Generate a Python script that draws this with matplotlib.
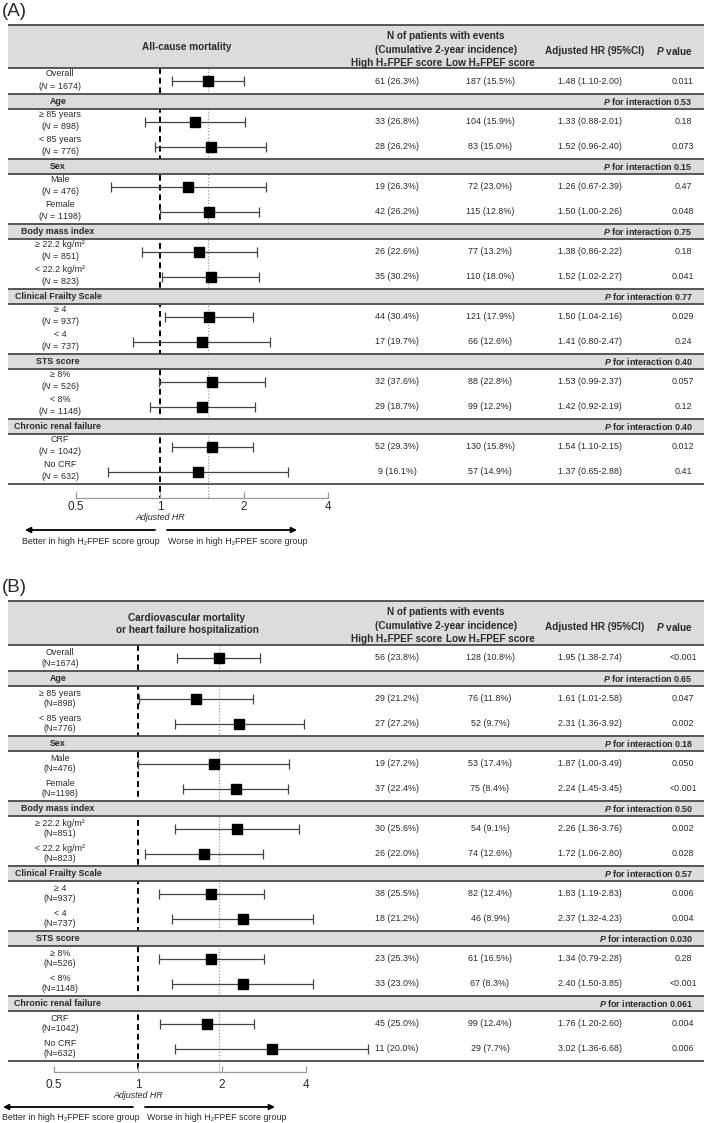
import numpy as np
import matplotlib.pyplot as plt

plt.rcParams['font.family'] = ['Liberation Sans', 'DejaVu Sans']
plt.rcParams['mathtext.fontset'] = 'custom'
plt.rcParams['mathtext.rm'] = 'Liberation Sans'
plt.rcParams['mathtext.it'] = 'Liberation Sans:italic'
plt.rcParams['mathtext.bf'] = 'Liberation Sans:bold'
plt.rcParams['mathtext.bfit'] = 'Liberation Sans:italic:bold'

# Subgrupos (comunes a ambos paneles)
grupos = ['Age', 'Sex', 'Body mass index', 'Clinical Frailty Scale', 'STS score', 'Chronic renal failure']
etiquetas = ['Overall', '≥ 85 years', '< 85 years', 'Male', 'Female', '≥ 22.2 kg/m²', '< 22.2 kg/m²',
             '≥ 4', '< 4', '≥ 8%', '< 8%', 'CRF', 'No CRF']
n_pac = [1674, 898, 776, 476, 1198, 851, 823, 937, 737, 526, 1148, 1042, 632]

# Panel A: mortalidad por cualquier causa
alto_a = ['61 (26.3%)', '33 (26.8%)', '28 (26.2%)', '19 (26.3%)', '42 (26.2%)', '26 (22.6%)', '35 (30.2%)',
          '44 (30.4%)', '17 (19.7%)', '32 (37.6%)', '29 (18.7%)', '52 (29.3%)', '9 (16.1%)']
bajo_a = ['187 (15.5%)', '104 (15.9%)', '83 (15.0%)', '72 (23.0%)', '115 (12.8%)', '77 (13.2%)', '110 (18.0%)',
          '121 (17.9%)', '66 (12.6%)', '88 (22.8%)', '99 (12.2%)', '130 (15.8%)', '57 (14.9%)']
hr_txt_a = ['1.48 (1.10-2.00)', '1.33 (0.88-2.01)', '1.52 (0.96-2.40)', '1.26 (0.67-2.39)', '1.50 (1.00-2.26)',
            '1.38 (0.86-2.22)', '1.52 (1.02-2.27)', '1.50 (1.04-2.16)', '1.41 (0.80-2.47)', '1.53 (0.99-2.37)',
            '1.42 (0.92-2.19)', '1.54 (1.10-2.15)', '1.37 (0.65-2.88)']
p_a = ['0.011', '0.18', '0.073', '0.47', '0.048', '0.18', '0.041', '0.029', '0.24', '0.057', '0.12', '0.012', '0.41']
p_int_a = ['0.53', '0.15', '0.75', '0.77', '0.40', '0.40']
hr_a = [1.48, 1.33, 1.52, 1.26, 1.50, 1.38, 1.52, 1.50, 1.41, 1.53, 1.42, 1.54, 1.37]
lo_a = [1.10, 0.88, 0.96, 0.67, 1.00, 0.86, 1.02, 1.04, 0.80, 0.99, 0.92, 1.10, 0.65]
hi_a = [2.00, 2.01, 2.40, 2.39, 2.26, 2.22, 2.27, 2.16, 2.47, 2.37, 2.19, 2.15, 2.88]

# Panel B: mortalidad CV u hospitalizacion por IC
alto_b = ['56 (23.8%)', '29 (21.2%)', '27 (27.2%)', '19 (27.2%)', '37 (22.4%)', '30 (25.6%)', '26 (22.0%)',
          '38 (25.5%)', '18 (21.2%)', '23 (25.3%)', '33 (23.0%)', '45 (25.0%)', '11 (20.0%)']
bajo_b = ['128 (10.8%)', '76 (11.8%)', '52 (9.7%)', '53 (17.4%)', '75 (8.4%)', '54 (9.1%)', '74 (12.6%)',
          '82 (12.4%)', '46 (8.9%)', '61 (16.5%)', '67 (8.3%)', '99 (12.4%)', '29 (7.7%)']
hr_txt_b = ['1.95 (1.38-2.74)', '1.61 (1.01-2.58)', '2.31 (1.36-3.92)', '1.87 (1.00-3.49)', '2.24 (1.45-3.45)',
            '2.26 (1.36-3.76)', '1.72 (1.06-2.80)', '1.83 (1.19-2.83)', '2.37 (1.32-4.23)', '1.34 (0.79-2.28)',
            '2.40 (1.50-3.85)', '1.76 (1.20-2.60)', '3.02 (1.36-6.68)']
p_b = ['<0.001', '0.047', '0.002', '0.050', '<0.001', '0.002', '0.028', '0.006', '0.004', '0.28', '<0.001',
       '0.004', '0.006']
p_int_b = ['0.65', '0.18', '0.50', '0.57', '0.030', '0.061']
# valores dibujados tal como aparecen en la figura
hr_b = [1.95, 1.61, 2.31, 1.87, 2.24, 2.26, 1.72, 1.83, 2.37, 1.83, 2.37, 1.76, 3.02]
lo_b = [1.38, 1.01, 1.36, 1.00, 1.45, 1.36, 1.06, 1.19, 1.32, 1.19, 1.32, 1.20, 1.36]
hi_b = [2.74, 2.58, 3.92, 3.49, 3.45, 3.76, 2.80, 2.83, 4.23, 2.83, 4.23, 2.60, 6.68]

ticks = [0.5, 1, 2, 4]

W, H = 709, 1123
X0, X1 = 8, 704  # bordes de la tabla
GRIS = '#dcdcdc'
LINEA = '#4a4a4a'
TXT = '#2a2a2a'
PX_DOBLE = 84  # pixeles por duplicacion del HR
COL_ALTO, COL_BAJO, COL_HR, COL_P = 397, 490, 590, 683
FS = 6.4      # texto normal
FS_HDR = 7.2  # encabezados

fig = plt.figure(figsize=(W / 100, H / 100), dpi=100)
ax_fa = fig.add_axes([0, 0, 1, 1])
ax_fb = fig.add_axes([0, 0, 1, 1])
ax_t = fig.add_axes([0, 0, 1, 1])
for ax in (ax_fa, ax_fb, ax_t):
    ax.set_ylim(H, 0)
    ax.axis('off')
    ax.patch.set_visible(False)
ax_t.set_xlim(0, W)


def panel(ax_f, top, alto_hdr, x_uno, titulo, letra, n_fmt, alto, bajo, hr_txt, pv, p_int,
          hr, lo, hi, pie):
    ax_f.set_xscale('log', base=2)
    ax_f.set_xlim(2 ** (-x_uno / PX_DOBLE), 2 ** ((W - x_uno) / PX_DOBLE))

    hdr_bot = top + alto_hdr
    filas = [hdr_bot + 13]
    bandas = []
    y = hdr_bot + 26
    for g in grupos:
        bandas.append(y + 7.5)
        y += 15
        filas.append(y + 12.5)
        y += 25
        filas.append(y + 12.5)
        y += 25
    fondo = y
    d_eje, d_tick, d_hr, d_fl, d_txt, xl0, xl1, xr0, xr1, xb, xw = pie
    y_eje = fondo + d_eje

    # bandas grises
    ax_t.barh([top + alto_hdr / 2], [X1 - X0], left=X0, height=alto_hdr, color=GRIS, zorder=1)
    ax_t.barh(bandas, X1 - X0, left=X0, height=15, color=GRIS, zorder=1)
    lineas = [top, hdr_bot, fondo] + [b - 7.5 for b in bandas] + [b + 7.5 for b in bandas]
    ax_t.hlines(lineas, X0, X1, color=LINEA, lw=1.3, zorder=2)

    # lineas de referencia y bosque
    ax_f.vlines(1, hdr_bot, y_eje, color='black', lw=1.4, linestyles=(0, (3, 2)))
    ax_f.vlines(hr[0], hdr_bot, y_eje, color='#999999', lw=0.9, linestyles=(0, (1, 1.5)))
    hr = np.array(hr)
    err = [hr - np.array(lo), np.array(hi) - hr]
    ax_f.errorbar(hr, filas, xerr=err, fmt='s', color='black', ecolor='#444444', elinewidth=0.9,
                  capsize=3.8, capthick=0.9, markersize=7.5)

    # eje inferior
    ax_f.plot([ticks[0], ticks[-1]], [y_eje, y_eje], color='#9a9a9a', lw=0.9)
    ax_f.vlines(ticks, y_eje - 6, y_eje, color='#9a9a9a', lw=0.9)
    for t in ticks:
        ax_f.text(t, y_eje + d_tick, f'{t:g}', ha='center', va='center', fontsize=8.5, color=TXT)
    ax_f.text(1, y_eje + d_hr, 'Adjusted HR', ha='center', va='center', fontsize=FS, style='italic', color=TXT)

    # flechas
    y_fl = y_eje + d_fl
    for x0, x1 in [(xl0, xl1), (xr0, xr1)]:
        ax_t.annotate('', xy=(x1, y_fl), xytext=(x0, y_fl),
                      arrowprops=dict(arrowstyle='-|>', color='black', lw=1.3, mutation_scale=8,
                                      shrinkA=0, shrinkB=0))
    ax_t.text(xb, y_eje + d_txt, 'Better in high H₂FPEF score group', ha='left', va='center', fontsize=FS,
              color=TXT)
    ax_t.text(xw, y_eje + d_txt, 'Worse in high H₂FPEF score group', ha='left', va='center', fontsize=FS,
              color=TXT)

    # encabezado
    ax_t.text(2, top - 13, letra, ha='left', va='center', fontsize=13.5, color=TXT)
    ax_t.text(187, top + alto_hdr / 2 + 1, titulo, ha='center', va='center', fontsize=FS_HDR,
              fontweight='bold', color=TXT, linespacing=1.25)
    kw = dict(ha='center', va='center', fontsize=FS_HDR, fontweight='bold', color=TXT)
    ax_t.text(446, top + 11, 'N of patients with events', **kw)
    ax_t.text(446, top + 25, '(Cumulative 2-year incidence)', **kw)
    ax_t.text(COL_ALTO, top + 38, 'High H₂FPEF score', **kw)
    ax_t.text(COL_BAJO, top + 38, 'Low H₂FPEF score', **kw)
    ax_t.text(595, top + 26, 'Adjusted HR (95%CI)', **kw)
    ax_t.text(674, top + 26, r'$\mathbfit{P}$ value', **kw)

    # filas
    for i, yf_ in enumerate(filas):
        ax_t.text(60, yf_, etiquetas[i] + '\n' + n_fmt.format(n_pac[i]), ha='center', va='center',
                  fontsize=FS, color=TXT, linespacing=1.2)
        ax_t.text(COL_ALTO, yf_, alto[i], ha='center', va='center', fontsize=FS, color=TXT)
        ax_t.text(COL_BAJO, yf_, bajo[i], ha='center', va='center', fontsize=FS, color=TXT)
        ax_t.text(COL_HR, yf_, hr_txt[i], ha='center', va='center', fontsize=FS, color=TXT)
        ax_t.text(COL_P, yf_, pv[i], ha='center', va='center', fontsize=FS, color=TXT)
    for j, b in enumerate(bandas):
        ax_t.text(58, b, grupos[j], ha='center', va='center', fontsize=FS, fontweight='bold', color=TXT)
        ax_t.text(693, b, r'$\mathbfit{P}$ for interaction ' + p_int[j], ha='right', va='center',
                  fontsize=FS, fontweight='bold', color=TXT)


panel(ax_fa, 25, 43, 160, 'All-cause mortality', '(A)', '($N$ = {})', alto_a, bajo_a, hr_txt_a, p_a,
      p_int_a, hr_a, lo_a, hi_a, (14, 9, 20, 32, 43, 155, 25, 167, 297, 22, 168))
panel(ax_fb, 601, 44, 138, 'Cardiovascular mortality\nor heart failure hospitalization', '(B)', '(N={})',
      alto_b, bajo_b, hr_txt_b, p_b, p_int_b, hr_b, lo_b, hi_b, (11, 13, 23, 35, 45, 133, 3, 145, 275, 2, 147))

plt.savefig('out.png', dpi=100)
